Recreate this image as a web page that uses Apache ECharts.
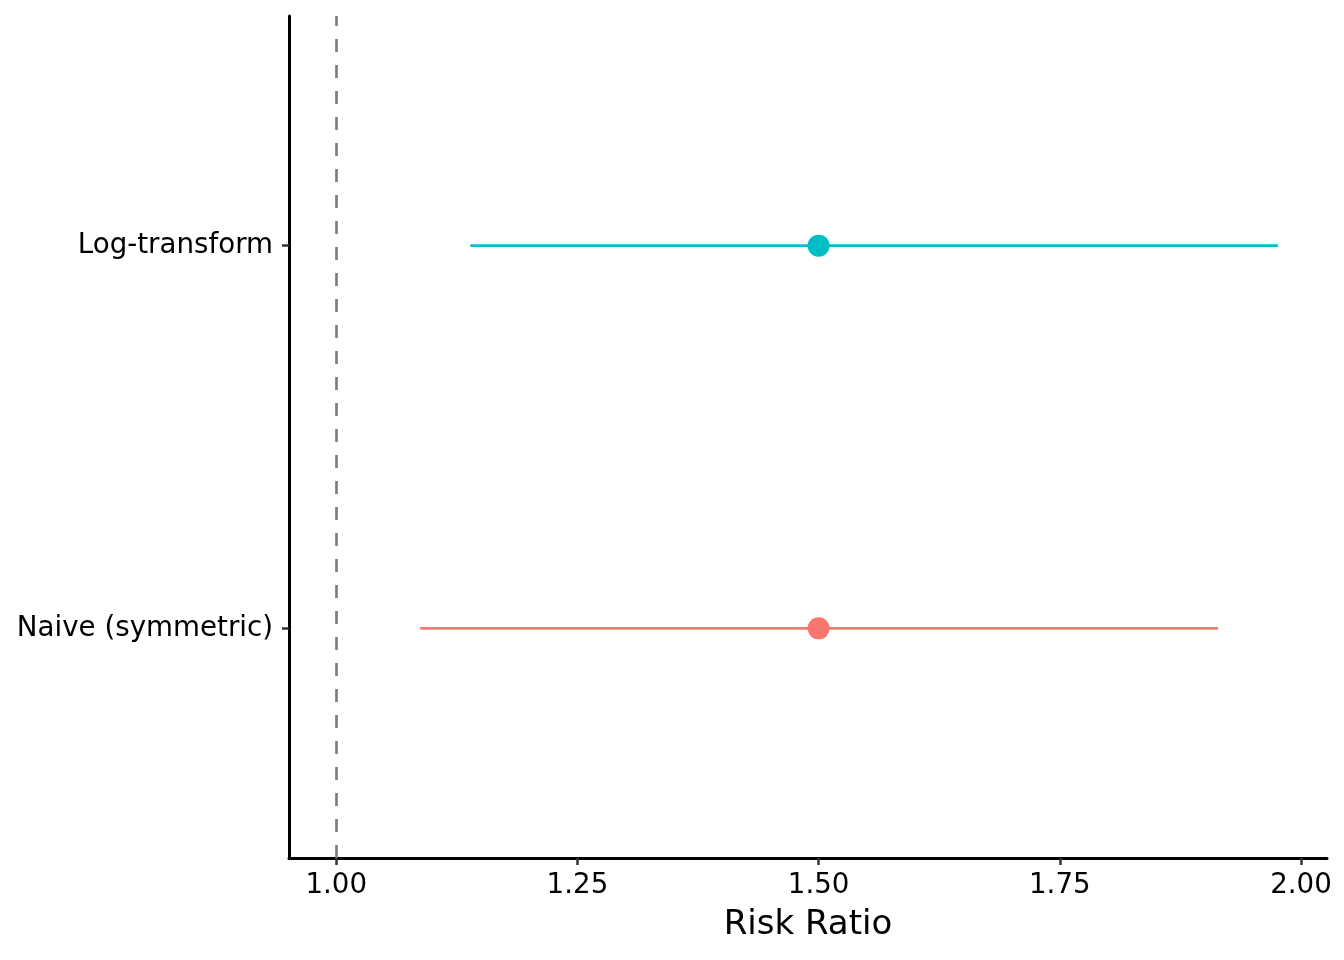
<!DOCTYPE html>
<html lang="en">
<head>
<meta charset="utf-8">
<title>Risk Ratio</title>
<script src="https://cdn.jsdelivr.net/npm/echarts@6/dist/echarts.min.js"></script>
<style>
  html, body { margin: 0; padding: 0; background: #fff; }
  #panel { width: 1344px; height: 960px; }
</style>
</head>
<body>
<div id="panel"></div>
<script>
// 数据
const methods = ['Naive (symmetric)', 'Log-transform'];
const methodColors = ['#F8766D', '#00BFC4'];
const estimates = [1.5, 1.5];
const lowerCI = [1.087, 1.139];
const upperCI = [1.914, 1.976];
const xTicks = [1.00, 1.25, 1.50, 1.75, 2.00];
const refLine = 1;

const chart = echarts.init(document.getElementById('panel'));
const font = 'DejaVu Sans';

// 每个方法一条误差线 + 一个点
const series = [];
methods.forEach((m, i) => {
  series.push({
    type: 'line',
    name: m + ' CI',
    data: [[lowerCI[i], i + 1], [upperCI[i], i + 1]],
    symbol: 'none',
    lineStyle: { color: methodColors[i], width: 2.7 },
    silent: true,
    z: 3
  });
  series.push({
    type: 'scatter',
    name: m,
    data: [[estimates[i], i + 1]],
    symbolSize: 22,
    itemStyle: { color: methodColors[i], opacity: 1 },
    z: 4
  });
});
// 参考虚线
series.push({
  type: 'line',
  data: [],
  markLine: {
    silent: true,
    symbol: 'none',
    label: { show: false },
    lineStyle: { color: '#7F7F7F', type: [13, 13], width: 2.7 },
    data: [{ xAxis: refLine }]
  },
  z: 2
});

const option = {
  animation: false,
  grid: { left: 289, right: 17, top: 16, bottom: 102, containLabel: false },
  xAxis: {
    type: 'value',
    min: 0.951,
    max: 2.027,
    name: 'Risk Ratio',
    nameLocation: 'middle',
    nameGap: 50,
    nameTextStyle: { fontFamily: font, fontSize: 34, color: '#000' },
    axisLine: { show: true, onZero: false, lineStyle: { color: '#000', width: 3 } },
    axisTick: { show: true, length: 7, customValues: xTicks, lineStyle: { color: '#333', width: 2.5 } },
    axisLabel: {
      customValues: xTicks,
      margin: 14,
      fontFamily: font, fontSize: 27.7, color: '#000',
      formatter: v => v.toFixed(2)
    },
    splitLine: { show: false }
  },
  yAxis: {
    type: 'value',
    min: 0.4,
    max: 2.6,
    axisLine: { show: true, onZero: false, lineStyle: { color: '#000', width: 3 } },
    axisTick: { show: true, length: 7, customValues: [1, 2], lineStyle: { color: '#333', width: 2.5 } },
    axisLabel: {
      customValues: [1, 2],
      margin: 16,
      fontFamily: font, fontSize: 27.7, color: '#000',
      formatter: v => methods[Math.round(v) - 1] || ''
    },
    splitLine: { show: false }
  },
  series: series
};
chart.setOption(option);
</script>
</body>
</html>
